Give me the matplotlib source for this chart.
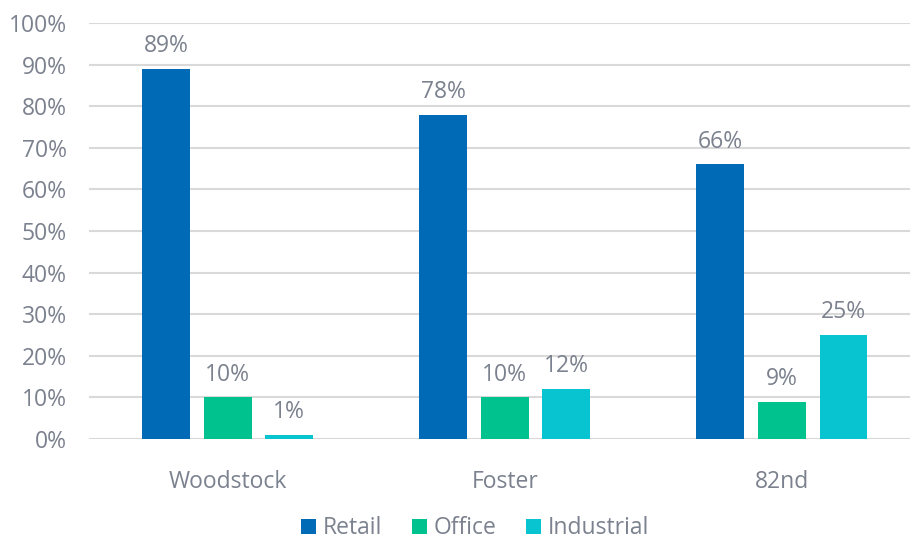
import matplotlib.pyplot as plt
import numpy as np

plt.rcParams['font.family'] = ['Open Sans', 'DejaVu Sans']

# data
categories = ['Woodstock', 'Foster', '82nd']
series = ['Retail', 'Office', 'Industrial']
retail = [89, 78, 66]
office = [10, 10, 9]
industrial = [1, 12, 25]
colors = ['#006AB6', '#00C28E', '#08C4D0']
yticks = [0, 10, 20, 30, 40, 50, 60, 70, 80, 90, 100]

text_col = '#7B818E'
fs = 16.5

fig = plt.figure(figsize=(9.1, 5.4), dpi=100)
ax = fig.add_axes([89 / 910, 101 / 540, 1 - 89 / 910, 416 / 540])

x = np.arange(len(categories))
width = 0.173
step = 0.222
for i, (name, vals) in enumerate(zip(series, [retail, office, industrial])):
    bars = ax.bar(x + (i - 1) * step, vals, width, color=colors[i], label=name, zorder=3)
    for b, v in zip(bars, vals):
        ax.text(b.get_x() + b.get_width() / 2, v + 2.6, '%d%%' % v, ha='center', va='bottom',
                fontsize=fs, color=text_col)

ax.set_xlim(-0.5, 2.462)
ax.set_ylim(0, 100)
ax.set_yticks(yticks)
ax.set_yticklabels(['%d%%' % t for t in yticks])
ax.set_xticks(x)
ax.set_xticklabels(categories)
ax.tick_params(axis='both', length=0, labelsize=fs, labelcolor=text_col)
ax.tick_params(axis='x', pad=22)
ax.tick_params(axis='y', pad=16)
ax.grid(axis='y', color='#D9D9D9', linewidth=1.5, zorder=0)
for s in ax.spines.values():
    s.set_visible(False)

leg = ax.legend(loc='center', bbox_to_anchor=((475 - 89) / 821, -0.215), ncol=3, frameon=False,
                fontsize=fs, handlelength=0.65, handleheight=0.65, handletextpad=0.3, columnspacing=1.3)
for t in leg.get_texts():
    t.set_color(text_col)

fig.savefig('out.png', dpi=100)
